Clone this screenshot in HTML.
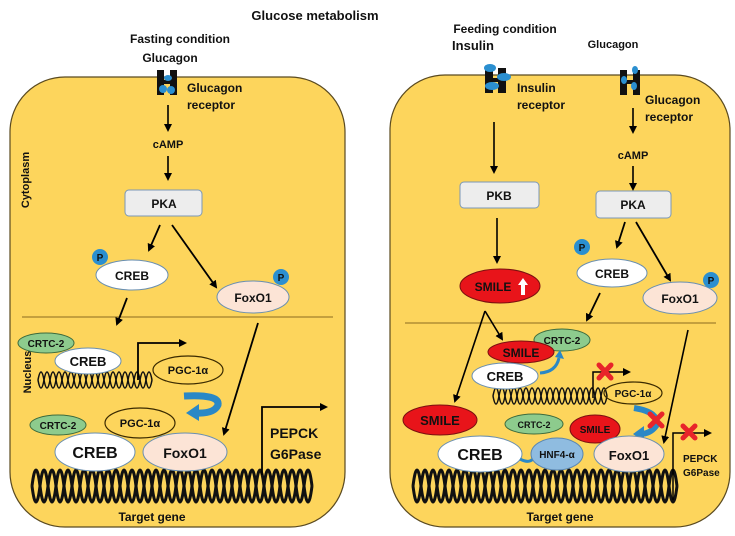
<!DOCTYPE html>
<html><head><meta charset="utf-8"><style>
html,body{margin:0;padding:0;background:#fff}
svg{display:block}
text{font-family:"Liberation Sans",Arial,sans-serif;font-weight:bold;fill:#111}
</style></head><body>
<svg width="735" height="536" viewBox="0 0 735 536" xmlns="http://www.w3.org/2000/svg">
<defs>
<marker id="a" markerWidth="8" markerHeight="8" refX="6" refY="4" orient="auto" markerUnits="userSpaceOnUse"><path d="M0,0 L8,4 L0,8 Z" fill="#000"/></marker>
</defs>
<rect x="10" y="77" width="335" height="450" rx="55" fill="#FDD55C" stroke="#5a4a20" stroke-width="1.2"/>
<rect x="390" y="75" width="340" height="452" rx="55" fill="#FDD55C" stroke="#5a4a20" stroke-width="1.2"/>

<text x="315" y="20" font-size="13" text-anchor="middle">Glucose metabolism</text>

<!-- LEFT -->
<text x="180" y="43" font-size="12" text-anchor="middle">Fasting condition</text>
<text x="170" y="62" font-size="12" text-anchor="middle">Glucagon</text>
<rect x="157" y="70" width="7" height="25" fill="#111"/><rect x="170" y="70" width="7" height="25" fill="#111"/>
<rect x="157" y="80" width="20" height="4" fill="#111"/>
<ellipse cx="168" cy="78" rx="4" ry="3" fill="#2b8fd0"/><ellipse cx="163" cy="89" rx="4" ry="4" fill="#2b8fd0"/><ellipse cx="171" cy="90" rx="4" ry="4" fill="#2b8fd0"/>
<text x="187" y="92" font-size="12">Glucagon</text>
<text x="187" y="109" font-size="12">receptor</text>
<line x1="168" y1="105" x2="168" y2="130" stroke="#000" stroke-width="1.6" marker-end="url(#a)"/>
<text x="168" y="148" font-size="11" text-anchor="middle">cAMP</text>
<line x1="168" y1="156" x2="168" y2="179" stroke="#000" stroke-width="1.6" marker-end="url(#a)"/>
<text x="25" y="180" font-size="11" text-anchor="middle" transform="rotate(-90 25 180)" dy="4">Cytoplasm</text>
<rect x="125" y="190" width="77" height="26" rx="4" fill="#EDEDED" stroke="#7a98b8" stroke-width="1"/>
<text x="164" y="208" font-size="12" text-anchor="middle">PKA</text>
<line x1="160" y1="225" x2="149" y2="250" stroke="#000" stroke-width="1.8" marker-end="url(#a)"/>
<line x1="172" y1="225" x2="216" y2="287" stroke="#000" stroke-width="1.8" marker-end="url(#a)"/>
<ellipse cx="132" cy="275" rx="36" ry="15" fill="#fff" stroke="#6a8fb0"/>
<text x="132" y="280" font-size="12" text-anchor="middle">CREB</text>
<circle cx="100" cy="257" r="8" fill="#2b8fd0"/><text x="100" y="261" font-size="10" text-anchor="middle">P</text>
<ellipse cx="253" cy="297" rx="36" ry="16" fill="#FCE4D6" stroke="#6a8fb0"/>
<text x="253" y="302" font-size="12" text-anchor="middle">FoxO1</text>
<circle cx="281" cy="277" r="8" fill="#2b8fd0"/><text x="281" y="281" font-size="10" text-anchor="middle">P</text>
<line x1="22" y1="317" x2="333" y2="317" stroke="#8a6a20" stroke-width="1"/>
<line x1="127" y1="298" x2="117" y2="324" stroke="#000" stroke-width="1.8" marker-end="url(#a)"/>
<text x="27" y="372" font-size="11" text-anchor="middle" transform="rotate(-90 27 372)" dy="4">Nucleus</text>
<path d="M38 380 q3 -16 6 0 t6 0 t6 0 t6 0 t6 0 t6 0 t6 0 t6 0 t6 0 t6 0 t6 0 t6 0 t6 0 t6 0 t6 0 t6 0 t6 0 t6 0 t6 0" fill="none" stroke="#111" stroke-width="1.5"/>
<path d="M38 380 q3 16 6 0 t6 0 t6 0 t6 0 t6 0 t6 0 t6 0 t6 0 t6 0 t6 0 t6 0 t6 0 t6 0 t6 0 t6 0 t6 0 t6 0 t6 0 t6 0" fill="none" stroke="#111" stroke-width="1.5"/>
<polyline points="138,380 138,343 185,343" fill="none" stroke="#000" stroke-width="1.8" marker-end="url(#a)"/>
<ellipse cx="46" cy="343" rx="28" ry="10" fill="#8DCB8D" stroke="#3d6b3d"/>
<text x="46" y="347" font-size="10" text-anchor="middle">CRTC-2</text>
<ellipse cx="88" cy="361" rx="33" ry="13" fill="#fff" stroke="#6a8fb0"/>
<text x="88" y="366" font-size="13" text-anchor="middle">CREB</text>
<ellipse cx="188" cy="370" rx="35" ry="14" fill="none" stroke="#3a2a00" stroke-width="1.2"/>
<text x="188" y="374" font-size="11" text-anchor="middle">PGC-1α</text>
<path d="M184 396 Q220 394 218 405 Q214 414 196 413" fill="none" stroke="#2a88c6" stroke-width="7"/>
<polygon points="186,413 199,404 199,421" fill="#2a88c6"/>
<line x1="258" y1="323" x2="224" y2="434" stroke="#000" stroke-width="1.8" marker-end="url(#a)"/>
<ellipse cx="58" cy="425" rx="28" ry="10" fill="#8DCB8D" stroke="#3d6b3d"/>
<text x="58" y="429" font-size="10" text-anchor="middle">CRTC-2</text>
<ellipse cx="140" cy="423" rx="35" ry="15" fill="none" stroke="#3a2a00" stroke-width="1.2"/>
<text x="140" y="427" font-size="11" text-anchor="middle">PGC-1α</text>
<path d="M32 486 q4 -32 8 0 t8 0 t8 0 t8 0 t8 0 t8 0 t8 0 t8 0 t8 0 t8 0 t8 0 t8 0 t8 0 t8 0 t8 0 t8 0 t8 0 t8 0 t8 0 t8 0 t8 0 t8 0 t8 0 t8 0 t8 0 t8 0 t8 0 t8 0 t8 0 t8 0 t8 0 t8 0 t8 0 t8 0 t8 0" fill="none" stroke="#111" stroke-width="3"/>
<path d="M32 486 q4 32 8 0 t8 0 t8 0 t8 0 t8 0 t8 0 t8 0 t8 0 t8 0 t8 0 t8 0 t8 0 t8 0 t8 0 t8 0 t8 0 t8 0 t8 0 t8 0 t8 0 t8 0 t8 0 t8 0 t8 0 t8 0 t8 0 t8 0 t8 0 t8 0 t8 0 t8 0 t8 0 t8 0 t8 0 t8 0" fill="none" stroke="#111" stroke-width="3"/>
<ellipse cx="95" cy="452" rx="40" ry="19" fill="#fff" stroke="#6a8fb0"/>
<text x="95" y="458" font-size="16" text-anchor="middle">CREB</text>
<ellipse cx="185" cy="452" rx="42" ry="19" fill="#FCE4D6" stroke="#6a8fb0"/>
<text x="185" y="458" font-size="14" text-anchor="middle">FoxO1</text>
<polyline points="262,475 262,407 326,407" fill="none" stroke="#000" stroke-width="1.8" marker-end="url(#a)"/>
<text x="270" y="438" font-size="14">PEPCK</text>
<text x="270" y="459" font-size="14">G6Pase</text>
<text x="152" y="521" font-size="12" text-anchor="middle">Target gene</text>

<!-- RIGHT -->
<text x="505" y="33" font-size="12" text-anchor="middle">Feeding condition</text>
<text x="473" y="50" font-size="13" text-anchor="middle">Insulin</text>
<text x="613" y="48" font-size="11" text-anchor="middle">Glucagon</text>
<rect x="485" y="68" width="8" height="25" fill="#111"/><rect x="498" y="68" width="8" height="25" fill="#111"/><rect x="485" y="78" width="21" height="4" fill="#111"/>
<ellipse cx="490" cy="68" rx="6" ry="4" fill="#2b8fd0"/><ellipse cx="504" cy="77" rx="7" ry="4" fill="#2b8fd0"/><ellipse cx="492" cy="86" rx="7" ry="4" fill="#2b8fd0"/>
<text x="517" y="92" font-size="12">Insulin</text>
<text x="517" y="109" font-size="12">receptor</text>
<rect x="620" y="70" width="7" height="25" fill="#111"/><rect x="633" y="70" width="7" height="25" fill="#111"/><rect x="620" y="80" width="20" height="4" fill="#111"/>
<ellipse cx="635" cy="70" rx="3" ry="4" fill="#2b8fd0"/><ellipse cx="624" cy="80" rx="3" ry="4" fill="#2b8fd0"/><ellipse cx="634" cy="86" rx="3" ry="4" fill="#2b8fd0"/>
<text x="645" y="104" font-size="12">Glucagon</text>
<text x="645" y="121" font-size="12">receptor</text>
<line x1="633" y1="108" x2="633" y2="132" stroke="#000" stroke-width="1.6" marker-end="url(#a)"/>
<text x="633" y="159" font-size="11" text-anchor="middle">cAMP</text>
<line x1="633" y1="166" x2="633" y2="189" stroke="#000" stroke-width="1.6" marker-end="url(#a)"/>
<line x1="494" y1="122" x2="494" y2="172" stroke="#000" stroke-width="1.6" marker-end="url(#a)"/>
<rect x="460" y="182" width="79" height="26" rx="4" fill="#EDEDED" stroke="#7a98b8"/>
<text x="499" y="200" font-size="12" text-anchor="middle">PKB</text>
<rect x="596" y="191" width="75" height="27" rx="4" fill="#EDEDED" stroke="#7a98b8"/>
<text x="633" y="209" font-size="12" text-anchor="middle">PKA</text>
<line x1="497" y1="218" x2="497" y2="262" stroke="#000" stroke-width="1.6" marker-end="url(#a)"/>
<ellipse cx="500" cy="286" rx="40" ry="17" fill="#E8141A" stroke="#7a1010"/>
<text x="493" y="291" font-size="12" text-anchor="middle">SMILE</text>
<polygon points="523,278 528,285 525,285 525,295 521,295 521,285 518,285" fill="#fff"/>
<line x1="625" y1="222" x2="617" y2="247" stroke="#000" stroke-width="1.8" marker-end="url(#a)"/>
<line x1="636" y1="222" x2="670" y2="280" stroke="#000" stroke-width="1.8" marker-end="url(#a)"/>
<ellipse cx="612" cy="273" rx="35" ry="14" fill="#fff" stroke="#6a8fb0"/>
<text x="612" y="278" font-size="12" text-anchor="middle">CREB</text>
<circle cx="582" cy="247" r="8" fill="#2b8fd0"/><text x="582" y="251" font-size="10" text-anchor="middle">P</text>
<ellipse cx="680" cy="298" rx="37" ry="16" fill="#FCE4D6" stroke="#6a8fb0"/>
<text x="680" y="303" font-size="12" text-anchor="middle">FoxO1</text>
<circle cx="711" cy="280" r="8" fill="#2b8fd0"/><text x="711" y="284" font-size="10" text-anchor="middle">P</text>
<line x1="405" y1="323" x2="716" y2="323" stroke="#8a6a20" stroke-width="1"/>
<line x1="600" y1="293" x2="587" y2="320" stroke="#000" stroke-width="1.8" marker-end="url(#a)"/>
<line x1="485" y1="311" x2="502" y2="339" stroke="#000" stroke-width="1.6" marker-end="url(#a)"/>
<line x1="485" y1="311" x2="455" y2="401" stroke="#000" stroke-width="1.6" marker-end="url(#a)"/>
<path d="M493 396 q3 -16 6 0 t6 0 t6 0 t6 0 t6 0 t6 0 t6 0 t6 0 t6 0 t6 0 t6 0 t6 0 t6 0 t6 0 t6 0 t6 0 t6 0 t6 0 t6 0" fill="none" stroke="#111" stroke-width="1.5"/>
<path d="M493 396 q3 16 6 0 t6 0 t6 0 t6 0 t6 0 t6 0 t6 0 t6 0 t6 0 t6 0 t6 0 t6 0 t6 0 t6 0 t6 0 t6 0 t6 0 t6 0 t6 0" fill="none" stroke="#111" stroke-width="1.5"/>
<polyline points="593,398 593,372 629,372" fill="none" stroke="#000" stroke-width="1.5" marker-end="url(#a)"/>
<ellipse cx="562" cy="340" rx="28" ry="11" fill="#8DCB8D" stroke="#3d6b3d"/>
<text x="562" y="344" font-size="10" text-anchor="middle">CRTC-2</text>
<ellipse cx="521" cy="352" rx="33" ry="11" fill="#E8141A" stroke="#7a1010"/>
<text x="521" y="357" font-size="12" text-anchor="middle">SMILE</text>
<ellipse cx="505" cy="376" rx="33" ry="13" fill="#fff" stroke="#6a8fb0"/>
<text x="505" y="381" font-size="13" text-anchor="middle">CREB</text>
<path d="M540 373 Q556 372 559 358" fill="none" stroke="#2a88c6" stroke-width="3"/>
<polygon points="555,357 560,350 564,359" fill="#2a88c6"/>
<g stroke="#E8242A" stroke-width="5" stroke-linecap="round"><line x1="599" y1="365" x2="611" y2="378"/><line x1="611" y1="365" x2="599" y2="378"/></g>
<ellipse cx="633" cy="393" rx="29" ry="11" fill="none" stroke="#3a2a00" stroke-width="1.2"/>
<text x="633" y="397" font-size="10" text-anchor="middle">PGC-1α</text>
<path d="M634 408 Q660 412 656 426 Q650 434 640 434" fill="none" stroke="#2a88c6" stroke-width="6"/>
<polygon points="633,434 644,426 644,442" fill="#2a88c6"/>
<g stroke="#E8242A" stroke-width="5" stroke-linecap="round"><line x1="650" y1="414" x2="662" y2="426"/><line x1="662" y1="414" x2="650" y2="426"/></g>
<line x1="688" y1="330" x2="664" y2="442" stroke="#000" stroke-width="1.6" marker-end="url(#a)"/>
<ellipse cx="440" cy="420" rx="37" ry="15" fill="#E8141A" stroke="#7a1010"/>
<text x="440" y="425" font-size="13" text-anchor="middle">SMILE</text>
<ellipse cx="534" cy="424" rx="29" ry="10" fill="#8DCB8D" stroke="#3d6b3d"/>
<text x="534" y="428" font-size="9" text-anchor="middle">CRTC-2</text>
<path d="M413 486 q4 -32 8 0 t8 0 t8 0 t8 0 t8 0 t8 0 t8 0 t8 0 t8 0 t8 0 t8 0 t8 0 t8 0 t8 0 t8 0 t8 0 t8 0 t8 0 t8 0 t8 0 t8 0 t8 0 t8 0 t8 0 t8 0 t8 0 t8 0 t8 0 t8 0 t8 0 t8 0 t8 0 t8 0" fill="none" stroke="#111" stroke-width="3"/>
<path d="M413 486 q4 32 8 0 t8 0 t8 0 t8 0 t8 0 t8 0 t8 0 t8 0 t8 0 t8 0 t8 0 t8 0 t8 0 t8 0 t8 0 t8 0 t8 0 t8 0 t8 0 t8 0 t8 0 t8 0 t8 0 t8 0 t8 0 t8 0 t8 0 t8 0 t8 0 t8 0 t8 0 t8 0 t8 0" fill="none" stroke="#111" stroke-width="3"/>
<ellipse cx="480" cy="454" rx="42" ry="18" fill="#fff" stroke="#6a8fb0"/>
<text x="480" y="460" font-size="16" text-anchor="middle">CREB</text>
<path d="M520 459 Q533 466 536 452" fill="none" stroke="#2a88c6" stroke-width="3"/>
<polygon points="532,452 536,445 540,453" fill="#2a88c6"/>
<ellipse cx="595" cy="429" rx="25" ry="14" fill="#E8141A" stroke="#7a1010"/>
<text x="595" y="433" font-size="10" text-anchor="middle">SMILE</text>
<ellipse cx="557" cy="454" rx="26" ry="16" fill="#8FBCE0" stroke="#5a86b0"/>
<text x="557" y="458" font-size="10" text-anchor="middle">HNF4-α</text>
<ellipse cx="629" cy="454" rx="35" ry="18" fill="#FCE4D6" stroke="#6a8fb0"/>
<text x="629" y="460" font-size="13" text-anchor="middle">FoxO1</text>
<polyline points="673,500 673,433 710,433" fill="none" stroke="#000" stroke-width="1.5" marker-end="url(#a)"/>
<g stroke="#E8242A" stroke-width="5" stroke-linecap="round"><line x1="683" y1="426" x2="695" y2="438"/><line x1="695" y1="426" x2="683" y2="438"/></g>
<text x="683" y="462" font-size="10">PEPCK</text>
<text x="683" y="476" font-size="10">G6Pase</text>
<text x="560" y="521" font-size="12" text-anchor="middle">Target gene</text>
</svg>
</body></html>
